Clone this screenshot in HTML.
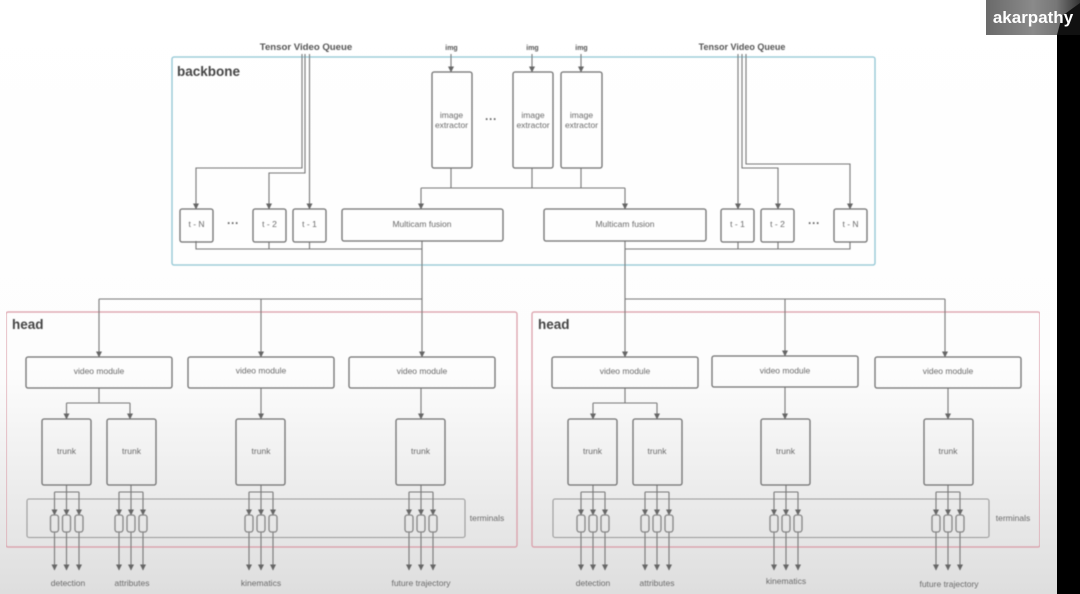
<!DOCTYPE html>
<html><head><meta charset="utf-8"><style>
html,body{margin:0;padding:0;width:1080px;height:594px;overflow:hidden;background:#fff}
svg{display:block;position:absolute;left:0;top:0}
text{font-family:"Liberation Sans",sans-serif;fill:#6a6a6a;font-size:8.5px;text-anchor:middle}
.b rect{fill:none;stroke:#707070;stroke-width:1.3}
.l path{fill:none;stroke:#777;stroke-width:1.1}
.a path{fill:none;stroke:#777;stroke-width:1.1;marker-end:url(#m)}
.t rect{fill:none;stroke:#858585;stroke-width:1.3}
.h{font-size:13.5px;font-weight:bold;fill:#444;text-anchor:start}
.q{font-size:9px;font-weight:bold;fill:#555}
.i{font-size:7px;font-weight:bold;fill:#555}
.d{font-size:12px;font-weight:bold;fill:#666}
</style></head><body>
<svg width="1080" height="594" viewBox="0 0 1080 594" xmlns="http://www.w3.org/2000/svg">
<defs>
<linearGradient id="bg" x1="0" y1="0" x2="0" y2="1"><stop offset="0" stop-color="#fff"/><stop offset=".62" stop-color="#fdfdfd"/><stop offset=".8" stop-color="#eee"/><stop offset="1" stop-color="#dedede"/></linearGradient>
<linearGradient id="bd" x1="0" y1="0" x2="1" y2="0"><stop offset="0" stop-color="#6a6a6a"/><stop offset=".5" stop-color="#8a8a8a"/><stop offset=".75" stop-color="#777"/><stop offset="1" stop-color="#333"/></linearGradient>
<marker id="m" markerWidth="7" markerHeight="7" refX="5.5" refY="3" orient="auto" markerUnits="userSpaceOnUse"><path d="M0 0L6 3L0 6Z" fill="#666" stroke="none"/></marker>
<filter id="f" x="0" y="0" width="100%" height="100%"><feGaussianBlur stdDeviation="0.5"/></filter>
</defs>
<rect width="1080" height="594" fill="url(#bg)"/>
<g filter="url(#f)">
<rect x="172" y="57" width="703" height="208" rx="2" fill="none" stroke="#8fc5d3" stroke-width="1.3"/>
<rect x="6" y="312" width="511" height="235" rx="2" fill="none" stroke="#d99aa5" stroke-width="1.2"/>
<rect x="532" y="312" width="508" height="235" rx="2" fill="none" stroke="#d99aa5" stroke-width="1.2"/>
<rect x="27" y="499" width="438" height="38.500" rx="2" fill="none" stroke="#999" stroke-width="1.1"/>
<rect x="553" y="499" width="436" height="38.500" rx="2" fill="none" stroke="#999" stroke-width="1.1"/>

<g class="l">
<path d="M451 168V188M532 168V188M581 168V188M421 188H625"/>
<path d="M196 241V249H422M269 242V249M309.500 242V249M422 241V299"/>
<path d="M625 241V299M738 242V249M778 242V249M850 242V249H625"/>
<path d="M99 299H422M625 299H945"/>
<path d="M99 388V403M66.500 403H130M625 388V403M593 403H657"/>
<path d="M66.500 485V492M54.500 492H79M131 485V492M119 492H143M261 485V492M249 492H273M421 485V492M409 492H433"/>
<path d="M593 485V492M581 492H605M657 485V492M645 492H669M786 485V492M774 492H798M948 485V492M936 492H960"/>
</g>
<g class="a">
<path d="M451 54V72"/><path d="M532 54V72"/><path d="M581 54V72"/>
<path d="M421 188V209"/><path d="M625 188V209"/>
<path d="M302 54V168H196V209"/><path d="M305 54V173H269V209"/><path d="M309.500 54V209"/>
<path d="M738 54V209"/><path d="M742 54V168H778V209"/><path d="M746 54V164H850V209"/>
<path d="M99 299V357"/><path d="M261 299V357"/><path d="M422 299V357"/>
<path d="M625 299V357"/><path d="M785 299V356"/><path d="M945 299V357"/>
<path d="M66.500 403V419"/><path d="M130 403V419"/><path d="M593 403V419"/><path d="M657 403V419"/>
<path d="M261 388V419"/><path d="M421 388V419"/><path d="M785 387V419"/><path d="M948 388V419"/>
<path d="M54.500 492V515"/><path d="M66.500 492V515"/><path d="M79 492V515"/>
<path d="M119 492V515"/><path d="M131 492V515"/><path d="M143 492V515"/>
<path d="M249 492V515"/><path d="M261 492V515"/><path d="M273 492V515"/>
<path d="M409 492V515"/><path d="M421 492V515"/><path d="M433 492V515"/>
<path d="M581 492V515"/><path d="M593 492V515"/><path d="M605 492V515"/>
<path d="M645 492V515"/><path d="M657 492V515"/><path d="M669 492V515"/>
<path d="M774 492V515"/><path d="M786 492V515"/><path d="M798 492V515"/>
<path d="M936 492V515"/><path d="M948 492V515"/><path d="M960 492V515"/>
<path d="M54.500 532V570"/><path d="M66.500 532V570"/><path d="M79 532V570"/>
<path d="M119 532V570"/><path d="M131 532V570"/><path d="M143 532V570"/>
<path d="M249 532V570"/><path d="M261 532V570"/><path d="M273 532V570"/>
<path d="M409 532V570"/><path d="M421 532V570"/><path d="M433 532V570"/>
<path d="M581 532V570"/><path d="M593 532V570"/><path d="M605 532V570"/>
<path d="M645 532V570"/><path d="M657 532V570"/><path d="M669 532V570"/>
<path d="M774 532V570"/><path d="M786 532V570"/><path d="M798 532V570"/>
<path d="M936 532V570"/><path d="M948 532V570"/><path d="M960 532V570"/>
</g>

<g class="b">
<rect x="432" y="72" width="40" height="96" rx="2"/><rect x="513" y="72" width="40" height="96" rx="2"/><rect x="561" y="72" width="41" height="96" rx="2"/>
<rect x="180" y="209" width="33" height="33" rx="2"/><rect x="253" y="209" width="33" height="33" rx="2"/><rect x="293" y="209" width="33" height="33" rx="2"/>
<rect x="342" y="209" width="161" height="32" rx="2"/><rect x="544" y="209" width="162" height="32" rx="2"/>
<rect x="721" y="209" width="33" height="33" rx="2"/><rect x="761" y="209" width="33" height="33" rx="2"/><rect x="834" y="209" width="33" height="33" rx="2"/>
<rect x="26" y="357" width="146" height="31" rx="2"/><rect x="188" y="357" width="146" height="31" rx="2"/><rect x="349" y="357" width="146" height="31" rx="2"/>
<rect x="552" y="357" width="146" height="31" rx="2"/><rect x="712" y="356" width="146" height="31" rx="2"/><rect x="875" y="357" width="146" height="31" rx="2"/>
<rect x="42" y="419" width="49" height="66" rx="2"/><rect x="107" y="419" width="49" height="66" rx="2"/><rect x="236" y="419" width="49" height="66" rx="2"/><rect x="396" y="419" width="49" height="66" rx="2"/>
<rect x="568" y="419" width="49" height="66" rx="2"/><rect x="633" y="419" width="49" height="66" rx="2"/><rect x="761" y="419" width="49" height="66" rx="2"/><rect x="924" y="419" width="49" height="66" rx="2"/>
</g>
<g class="t">
<rect x="50.500" y="515" width="8" height="17" rx="2.500"/><rect x="62.500" y="515" width="8" height="17" rx="2.500"/><rect x="75" y="515" width="8" height="17" rx="2.500"/>
<rect x="115" y="515" width="8" height="17" rx="2.500"/><rect x="127" y="515" width="8" height="17" rx="2.500"/><rect x="139" y="515" width="8" height="17" rx="2.500"/>
<rect x="245" y="515" width="8" height="17" rx="2.500"/><rect x="257" y="515" width="8" height="17" rx="2.500"/><rect x="269" y="515" width="8" height="17" rx="2.500"/>
<rect x="405" y="515" width="8" height="17" rx="2.500"/><rect x="417" y="515" width="8" height="17" rx="2.500"/><rect x="429" y="515" width="8" height="17" rx="2.500"/>
<rect x="577" y="515" width="8" height="17" rx="2.500"/><rect x="589" y="515" width="8" height="17" rx="2.500"/><rect x="601" y="515" width="8" height="17" rx="2.500"/>
<rect x="641" y="515" width="8" height="17" rx="2.500"/><rect x="653" y="515" width="8" height="17" rx="2.500"/><rect x="665" y="515" width="8" height="17" rx="2.500"/>
<rect x="770" y="515" width="8" height="17" rx="2.500"/><rect x="782" y="515" width="8" height="17" rx="2.500"/><rect x="794" y="515" width="8" height="17" rx="2.500"/>
<rect x="932" y="515" width="8" height="17" rx="2.500"/><rect x="944" y="515" width="8" height="17" rx="2.500"/><rect x="956" y="515" width="8" height="17" rx="2.500"/>
</g>

<text class="h" x="177" y="76">backbone</text>
<text class="h" x="12" y="329">head</text>
<text class="h" x="538" y="329">head</text>
<text class="q" x="306" y="50" style="font-size:9.600px">Tensor Video Queue</text>
<text class="q" x="742" y="50">Tensor Video Queue</text>
<text class="i" x="451.500" y="50">img</text><text class="i" x="532.500" y="50">img</text><text class="i" x="581.500" y="50">img</text>
<text x="451.500" y="118">image</text><text x="451.500" y="128">extractor</text>
<text x="533" y="118">image</text><text x="533" y="128">extractor</text>
<text x="581.500" y="118">image</text><text x="581.500" y="128">extractor</text>
<text class="d" x="491" y="123">···</text><text class="d" x="233" y="227">···</text><text class="d" x="814" y="227">···</text>
<text x="196.500" y="227">t - N</text><text x="269.500" y="227">t - 2</text><text x="309.500" y="227">t - 1</text>
<text x="422" y="227">Multicam fusion</text><text x="625" y="227">Multicam fusion</text>
<text x="737.500" y="227">t - 1</text><text x="777.500" y="227">t - 2</text><text x="850.500" y="227">t - N</text>
<text x="99" y="374">video module</text><text x="261" y="373.500">video module</text><text x="422" y="374">video module</text>
<text x="625" y="374">video module</text><text x="785" y="373.500">video module</text><text x="948" y="374">video module</text>
<text x="66.500" y="454">trunk</text><text x="131.500" y="454">trunk</text><text x="261" y="454">trunk</text><text x="420.500" y="454">trunk</text>
<text x="592.500" y="454">trunk</text><text x="657" y="454">trunk</text><text x="785.500" y="454">trunk</text><text x="948" y="454">trunk</text>
<text x="487" y="521">terminals</text><text x="1013" y="521">terminals</text>
<text x="68" y="586">detection</text><text x="132" y="586">attributes</text><text x="261" y="586">kinematics</text><text x="421" y="586">future trajectory</text>
<text x="593" y="586">detection</text><text x="657" y="586">attributes</text><text x="786" y="584">kinematics</text><text x="949" y="587">future trajectory</text>
</g>
<rect x="1057" y="34" width="23" height="560" fill="#000"/>
<rect x="986" y="0" width="94" height="35" fill="url(#bd)"/>
<path d="M1057 35L1062 16L1080 3V35Z" fill="#111"/>
<text x="1033" y="23" style="font-size:17px;font-weight:bold;fill:#fff;text-anchor:middle">akarpathy</text>
</svg>
</body></html>
